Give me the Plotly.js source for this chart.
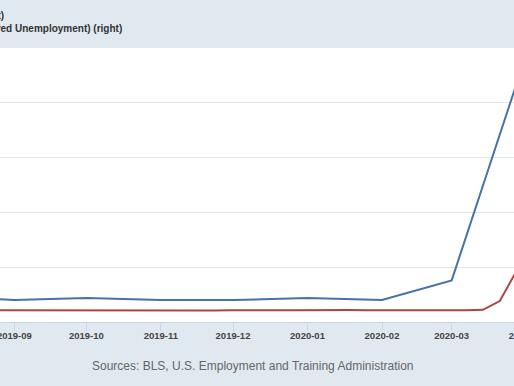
<!DOCTYPE html>
<html>
<head>
<meta charset="utf-8">
<script src="https://cdn.plot.ly/plotly-3.0.1.min.js"></script>
<style>html,body{margin:0;padding:0;background:#e1e9f0;overflow:hidden;width:514px;height:386px;}#chart{width:540px;height:386px;}</style>
</head>
<body>
<div id="chart"></div>
<script>
// Unemployment Rate (left axis, percent), monthly
const unrateDates = ['2019-08-01','2019-09-01','2019-10-01','2019-11-01','2019-12-01','2020-01-01','2020-02-01','2020-03-01','2020-04-01'];
const unrateValues = [3.7, 3.5, 3.6, 3.5, 3.5, 3.6, 3.5, 4.4, 14.7];

// Continued Claims (Insured Unemployment) (right axis, number), weekly
const claimsDates = ['2019-08-24','2019-08-31','2019-09-07','2019-09-14','2019-09-21','2019-09-28',
  '2019-10-05','2019-10-12','2019-10-19','2019-10-26','2019-11-02','2019-11-09','2019-11-16','2019-11-23','2019-11-30',
  '2019-12-07','2019-12-14','2019-12-21','2019-12-28','2020-01-04','2020-01-11','2020-01-18','2020-01-25',
  '2020-02-01','2020-02-08','2020-02-15','2020-02-22','2020-02-29','2020-03-07','2020-03-14','2020-03-21','2020-03-28','2020-04-04'];
const claimsValues = [1700000,1690000,1680000,1670000,1700000,1690000,
  1690000,1700000,1690000,1690000,1690000,1700000,1660000,1690000,1720000,
  1690000,1730000,1720000,1730000,1760000,1730000,1750000,1710000,
  1690000,1700000,1720000,1720000,1700000,1700000,1780000,3060000,7450000,11980000];

const tickDates = ['2019-09-01','2019-10-01','2019-11-01','2019-12-01','2020-01-01','2020-02-01','2020-03-01','2020-04-01'];
const tickLabels = ['2019-09','2019-10','2019-11','2019-12','2020-01','2020-02','2020-03','2020-04'];

const legendLeft = 'Unemployment Rate (left)';
const legendRight = 'Continued Claims (Insured Unemployment) (right)';
const sourceText = 'Sources: BLS, U.S. Employment and Training Administration';

const W = 540;

const traces = [
  {x: unrateDates, y: unrateValues, type: 'scatter', mode: 'lines', name: legendLeft,
   line: {color: '#4572a7', width: 2}, yaxis: 'y'},
  {x: claimsDates, y: claimsValues, type: 'scatter', mode: 'lines', name: legendRight,
   line: {color: '#aa4643', width: 2}, yaxis: 'y2'}
];

const layout = {
  width: W, height: 386,
  margin: {l: 0, r: 0, t: 48, b: 64, pad: 0},
  paper_bgcolor: '#e1e9f0',
  plot_bgcolor: '#ffffff',
  showlegend: false,
  font: {family: 'Liberation Sans, Arial, sans-serif', color: '#333'},
  xaxis: {
    type: 'date',
    range: ['2019-08-26 01:00', '2020-04-06 18:00'],
    tickvals: tickDates, ticktext: tickLabels,
    ticks: 'outside', ticklen: 8, tickcolor: '#ccd6eb', tickwidth: 1,
    ticklabeloverflow: 'allow', ticklabelstandoff: -3,
    showgrid: false, zeroline: false,
    showline: true, linecolor: '#ccd6eb', linewidth: 1,
    tickfont: {size: 9.5, color: '#444', family: 'Liberation Sans, Arial, sans-serif', weight: 'bold'}
  },
  yaxis: {
    range: [2.5, 15], dtick: 2.5, tick0: 0,
    showgrid: true, gridcolor: '#e6e6e6', gridwidth: 1,
    zeroline: false, showticklabels: false, ticks: ''
  },
  yaxis2: {
    overlaying: 'y', side: 'right',
    range: [0, 40000000], dtick: 8000000,
    showgrid: false, zeroline: false, showticklabels: false, ticks: ''
  },
  annotations: [
    {xref: 'paper', yref: 'paper', x: 5.5/W, y: (322-16)/274, xanchor: 'right', yanchor: 'middle',
     text: legendLeft, showarrow: false,
     font: {size: 10, color: '#333', family: 'Liberation Sans, Arial, sans-serif', weight: 'bold'}},
    {xref: 'paper', yref: 'paper', x: 124/W, y: (322-28)/274, xanchor: 'right', yanchor: 'middle',
     text: legendRight, showarrow: false,
     font: {size: 10, color: '#333', family: 'Liberation Sans, Arial, sans-serif', weight: 'bold'}},
    {xref: 'paper', yref: 'paper', x: 253/W, y: (322-366)/274, xanchor: 'center', yanchor: 'middle',
     text: sourceText, showarrow: false,
     font: {size: 12, color: '#666', family: 'Liberation Sans, Arial, sans-serif'}}
  ]
};

Plotly.newPlot('chart', traces, layout, {staticPlot: true, displayModeBar: false});
</script>
</body>
</html>
